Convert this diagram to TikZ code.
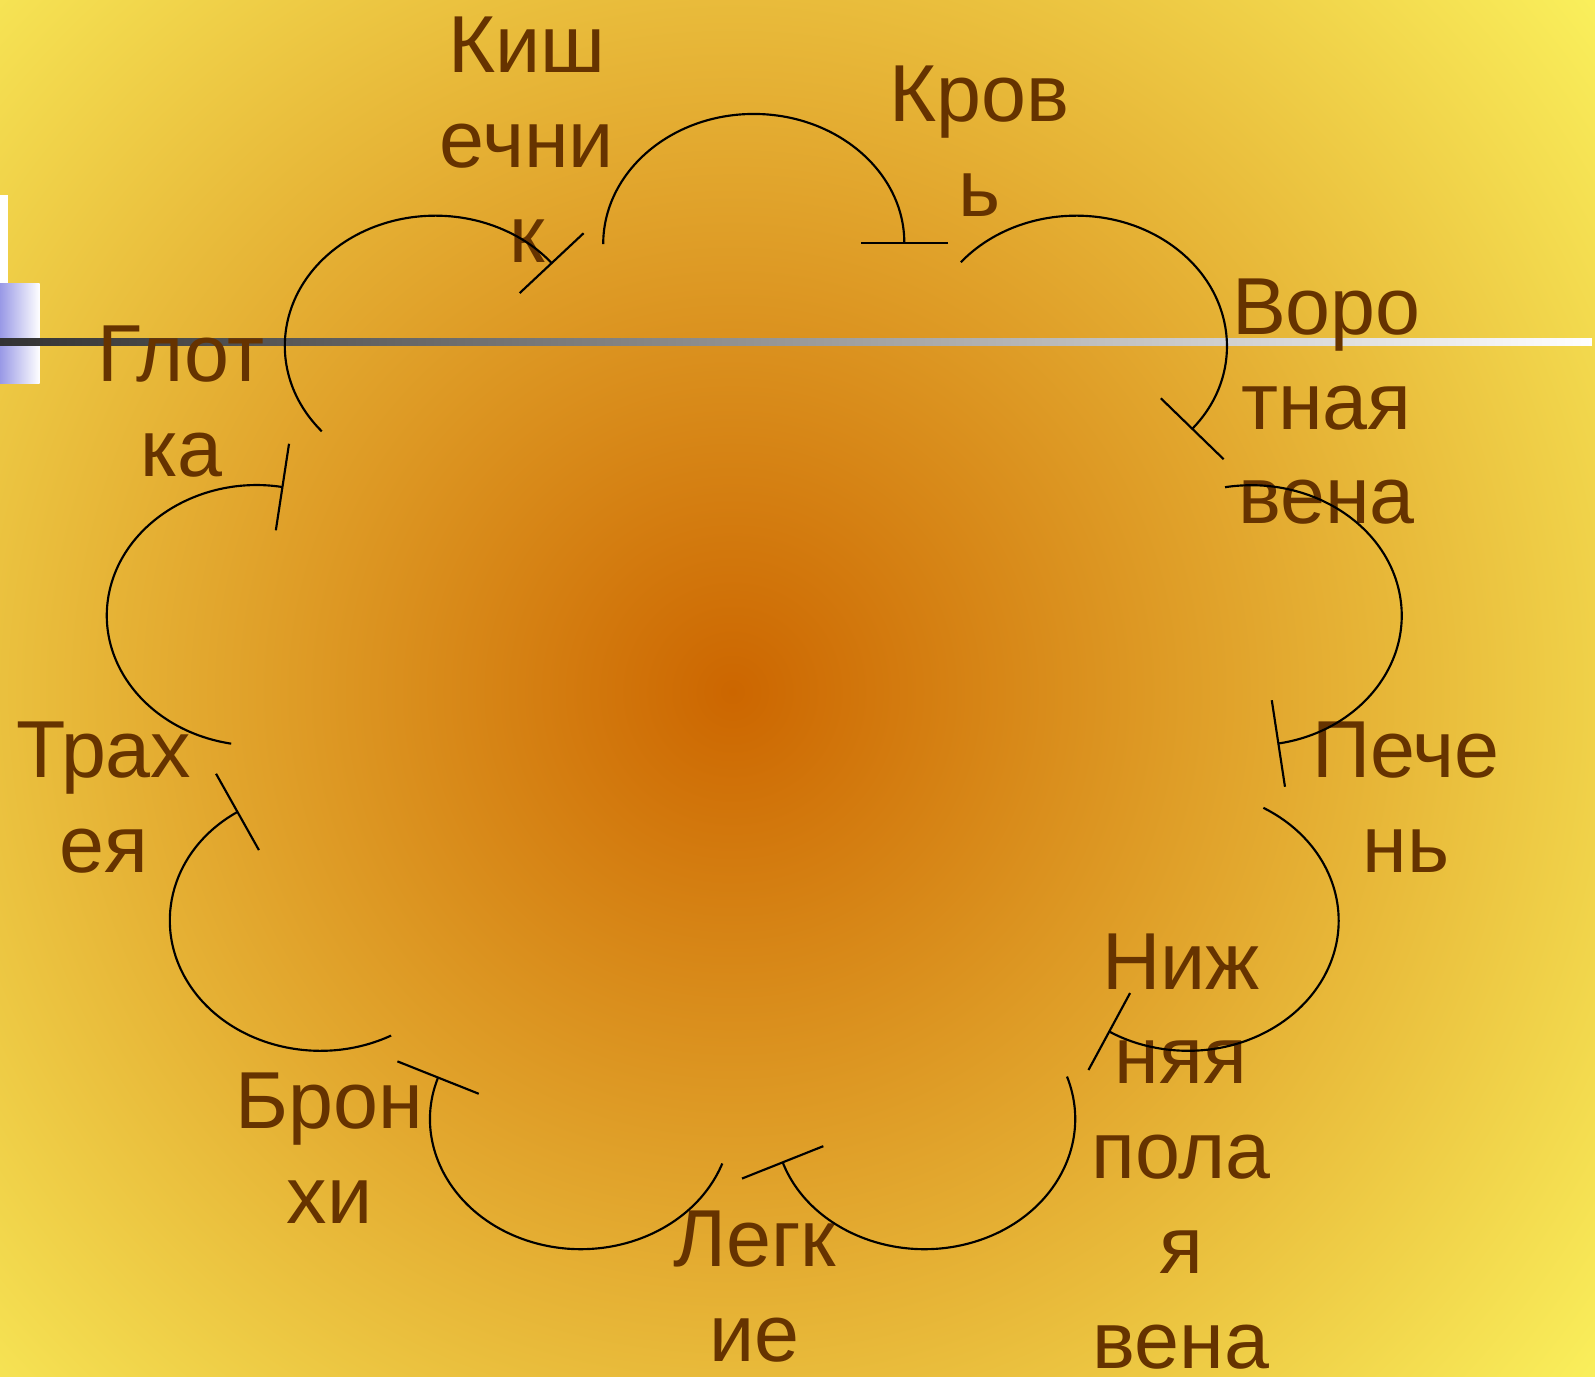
\documentclass[tikz,border=0pt]{standalone}
\usepackage{fontspec}
\setmainfont{Liberation Sans}
\usepackage{tikz}
\usetikzlibrary{arrows.meta, positioning}
\definecolor{glowcenter}{HTML}{CC6600}
\definecolor{glowmid}{HTML}{E3AA30}
\definecolor{glowedge}{HTML}{FAF05C}
\definecolor{organbrown}{HTML}{663300}
\definecolor{barblue}{HTML}{9999E6}
\definecolor{ruledark}{HTML}{333333}
\pgfdeclareradialshading{bgglow}{\pgfpoint{0bp}{0bp}}{color(0bp)=(glowcenter); color(12.5bp)=(glowmid); color(25bp)=(glowedge); color(50bp)=(glowedge)}

\begin{document}
\begin{tikzpicture}[
    x=0.01cm, y=0.01cm,
    organ/.style={align=center, anchor=base, inner sep=0pt, text=organbrown, font=\fontsize{22.6}{26.5}\selectfont},
    lobe/.style={line width=0.6pt, -{Bar[width=8.6mm]}, x radius=148, y radius=128},
]
    % Background
    \begin{scope}
        \clip (0,0) rectangle (1568,-1353);
        \shade[shading=bgglow] (720,-680) circle[radius=1090];
    \end{scope}
    \useasboundingbox (0,0) rectangle (1568,-1353);

    % Slide decoration
    \fill[white] (0,-192) rectangle (8,-279);
    \shade[left color=barblue, right color=white] (0,-279) rectangle (39,-377);
    \shade[left color=ruledark, right color=white] (0,-333) rectangle (1565,-339.5);

    % Labels (anchored at the baseline of the last line)
    \node[organ] (kish) at (518,-258) {Киш\\ечни\\к};
    \node[organ] (krov) at (963,-213) {Кров\\ь};
    \node[organ] (vorot) at (1304,-515) {Воро\\тная\\вена};
    \node[organ] (pechen) at (1382,-858) {Пече\\нь};
    \node[organ] (nizh) at (1161,-1345) {Ниж\\няя\\пола\\я\\вена};
    \node[organ] (legk) at (742,-1338) {Легк\\ие};
    \node[organ] (bronh) at (324,-1203) {Брон\\хи};
    \node[organ] (trah) at (102,-858) {Трах\\ея};
    \node[organ] (glot) at (178,-468) {Глот\\ка};

    % Lobe centres
    \coordinate (toKrov) at (741,-240);
    \coordinate (toVorot) at (1058,-340);
    \coordinate (toPechen) at (1230,-605);
    \coordinate (toNizh) at (1168,-905);
    \coordinate (toLegk) at (909,-1100);
    \coordinate (toBronh) at (571,-1100);
    \coordinate (toTrah) at (315,-905);
    \coordinate (toGlot) at (253,-605);
    \coordinate (toKish) at (428,-340);

    % Cloud lobes
    \draw[lobe] ([shift={(180:148 and 128)}]toKrov) arc[start angle=180, end angle=0];
    \draw[lobe] ([shift={(140:148 and 128)}]toVorot) arc[start angle=140, end angle=-40];
    \draw[lobe] ([shift={(100:148 and 128)}]toPechen) arc[start angle=100, end angle=-80];
    \draw[lobe] ([shift={(60:148 and 128)}]toNizh) arc[start angle=60, end angle=-122];
    \draw[lobe] ([shift={(19:148 and 128)}]toLegk) arc[start angle=19, end angle=-161];
    \draw[lobe] ([shift={(-20:148 and 128)}]toBronh) arc[start angle=-20, end angle=-199];
    \draw[lobe] ([shift={(-62:148 and 128)}]toTrah) arc[start angle=-62, end angle=-237];
    \draw[lobe] ([shift={(-100:148 and 128)}]toGlot) arc[start angle=-100, end angle=-280];
    \draw[lobe] ([shift={(221:148 and 128)}]toKish) arc[start angle=221, end angle=39];
\end{tikzpicture}
\end{document}
